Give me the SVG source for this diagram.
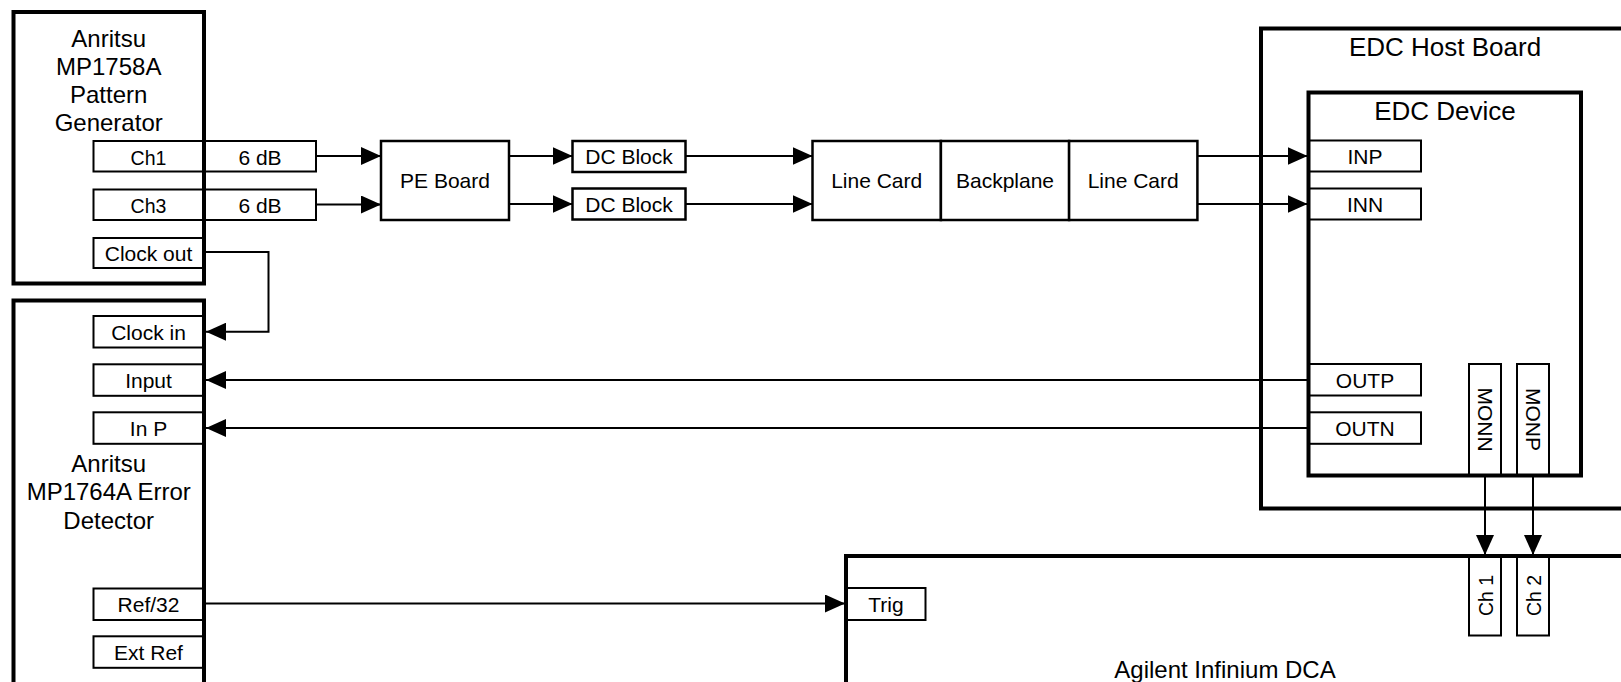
<svg xmlns="http://www.w3.org/2000/svg" width="1621" height="682" viewBox="0 0 1621 682">
<defs>
<style>
.box{fill:#fff;stroke:#000;stroke-width:4}
.port{fill:none;stroke:#000;stroke-width:2}
.blk{fill:#fff;stroke:#000;stroke-width:2.5}
.wire{fill:none;stroke:#000;stroke-width:2}
.arr{marker-end:url(#ah)}
text{font-family:"Liberation Sans",Arial,Helvetica,sans-serif;fill:#000;text-anchor:middle}
.t21{font-size:21px}
.t19{font-size:19.5px}
.t24{font-size:24px}
.t26{font-size:26px}
</style>
<marker id="ah" markerUnits="userSpaceOnUse" markerWidth="20" markerHeight="18" refX="20" refY="9" orient="auto"><path d="M0,0 L20,9 L0,18 z" fill="#000"/></marker>
</defs>
<rect width="1621" height="682" fill="#fff"/>

<g id="edc-host-board">
<rect class="box" x="1261" y="28.5" width="420" height="480"/>
<text class="t26" x="1445" y="56">EDC Host Board</text>
</g>
<g id="edc-device">
<rect class="box" x="1308.5" y="92.5" width="272.5" height="383"/>
<text class="t26" x="1445" y="120">EDC Device</text>
</g>
<g id="pattern-generator">
<rect class="box" x="13.5" y="12" width="190.5" height="271.5"/>
<text class="t24" x="108.7" y="46.5">Anritsu</text>
<text class="t24" x="108.7" y="74.8">MP1758A</text>
<text class="t24" x="108.7" y="103.1">Pattern</text>
<text class="t24" x="108.7" y="131.4">Generator</text>
</g>
<g id="error-detector">
<rect class="box" x="13.5" y="300.5" width="190.5" height="420"/>
<text class="t24" x="108.7" y="471.5">Anritsu</text>
<text class="t24" x="108.7" y="500">MP1764A Error</text>
<text class="t24" x="108.7" y="528.5">Detector</text>
</g>
<g id="dca">
<rect class="box" x="846" y="556" width="840" height="200"/>
<text class="t24" x="1225" y="677.5">Agilent Infinium DCA</text>
</g>

<g id="pg-ch1"><rect class="port" x="93.5" y="141" width="110.5" height="30.5"/><text class="t19" x="148.5" y="164.5">Ch1</text></g>
<g id="att-ch1"><rect class="port" x="204" y="141" width="112" height="30.5"/><text class="t21" x="260" y="164.5">6 dB</text></g>
<g id="pg-ch3"><rect class="port" x="93.5" y="189.5" width="110.5" height="30.5"/><text class="t19" x="148.5" y="212.8">Ch3</text></g>
<g id="att-ch3"><rect class="port" x="204" y="189.5" width="112" height="30.5"/><text class="t21" x="260" y="212.8">6 dB</text></g>
<g id="pg-clock-out"><rect class="port" x="93.5" y="238" width="110.5" height="30"/><text class="t21" x="148.5" y="260.8">Clock out</text></g>

<g id="pe-board"><rect class="blk" x="381" y="141" width="128" height="79"/><text class="t21" x="445" y="188">PE Board</text></g>
<g id="dc-block-1"><rect class="blk" x="572.5" y="141" width="113" height="31"/><text class="t21" x="629" y="164">DC Block</text></g>
<g id="dc-block-2"><rect class="blk" x="572.5" y="188.5" width="113" height="31"/><text class="t21" x="629" y="212">DC Block</text></g>
<g id="line-card-1"><rect class="blk" x="812.5" y="141" width="128.4" height="79"/><text class="t21" x="876.7" y="188">Line Card</text></g>
<g id="backplane"><rect class="blk" x="940.9" y="141" width="128.2" height="79"/><text class="t21" x="1005" y="188">Backplane</text></g>
<g id="line-card-2"><rect class="blk" x="1069.1" y="141" width="128.3" height="79"/><text class="t21" x="1133.2" y="188">Line Card</text></g>

<g id="edc-inp"><rect class="port" x="1308.5" y="140.5" width="112.5" height="31"/><text class="t21" x="1365" y="164">INP</text></g>
<g id="edc-inn"><rect class="port" x="1308.5" y="188.5" width="112.5" height="31"/><text class="t21" x="1365" y="212">INN</text></g>
<g id="edc-outp"><rect class="port" x="1308.5" y="364" width="112.5" height="31.5"/><text class="t21" x="1365" y="387.5">OUTP</text></g>
<g id="edc-outn"><rect class="port" x="1308.5" y="412.3" width="112.5" height="31.5"/><text class="t21" x="1365" y="435.8">OUTN</text></g>
<g id="edc-monn"><rect class="port" x="1469" y="364" width="32" height="111.5"/><text class="t21" transform="translate(1477.5 419.5) rotate(90)">MONN</text></g>
<g id="edc-monp"><rect class="port" x="1517" y="364" width="32" height="111.5"/><text class="t21" transform="translate(1525.5 419.5) rotate(90)">MONP</text></g>

<g id="ed-clock-in"><rect class="port" x="93.5" y="316" width="110.5" height="31.5"/><text class="t21" x="148.5" y="339.5">Clock in</text></g>
<g id="ed-input"><rect class="port" x="93.5" y="364.3" width="110.5" height="31.5"/><text class="t21" x="148.5" y="387.8">Input</text></g>
<g id="ed-in-p"><rect class="port" x="93.5" y="412.3" width="110.5" height="31.5"/><text class="t21" x="148.5" y="435.6">In P</text></g>
<g id="ed-ref32"><rect class="port" x="93.5" y="588.5" width="110.5" height="31.5"/><text class="t21" x="148.5" y="611.7">Ref/32</text></g>
<g id="ed-ext-ref"><rect class="port" x="93.5" y="636.3" width="110.5" height="31.5"/><text class="t21" x="148.5" y="659.7">Ext Ref</text></g>

<g id="dca-trig"><rect class="port" x="846" y="588" width="79.5" height="32"/><text class="t21" x="886" y="612">Trig</text></g>
<g id="dca-ch1"><rect class="port" x="1469" y="556" width="32" height="79.5"/><text class="t19" transform="translate(1492.5 595.5) rotate(-90)">Ch 1</text></g>
<g id="dca-ch2"><rect class="port" x="1517" y="556" width="32" height="79.5"/><text class="t19" transform="translate(1540.5 595.5) rotate(-90)">Ch 2</text></g>

<g id="connectors">
<path class="wire arr" d="M316,156 H381"/>
<path class="wire arr" d="M316,204.5 H381"/>
<path class="wire arr" d="M509,156 H572.5"/>
<path class="wire arr" d="M509,204 H572.5"/>
<path class="wire arr" d="M685.5,156 H812.5"/>
<path class="wire arr" d="M685.5,204 H812.5"/>
<path class="wire arr" d="M1197.4,156 H1307.5"/>
<path class="wire arr" d="M1197.4,204 H1307.5"/>
<path class="wire arr" d="M204,252 H268.5 V331.7 H206"/>
<path class="wire arr" d="M1308.5,380 H206"/>
<path class="wire arr" d="M1308.5,428 H206"/>
<path class="wire arr" d="M204,603.5 H845"/>
<path class="wire arr" d="M1485,475.5 V555"/>
<path class="wire arr" d="M1533,475.5 V555"/>
</g>
</svg>
